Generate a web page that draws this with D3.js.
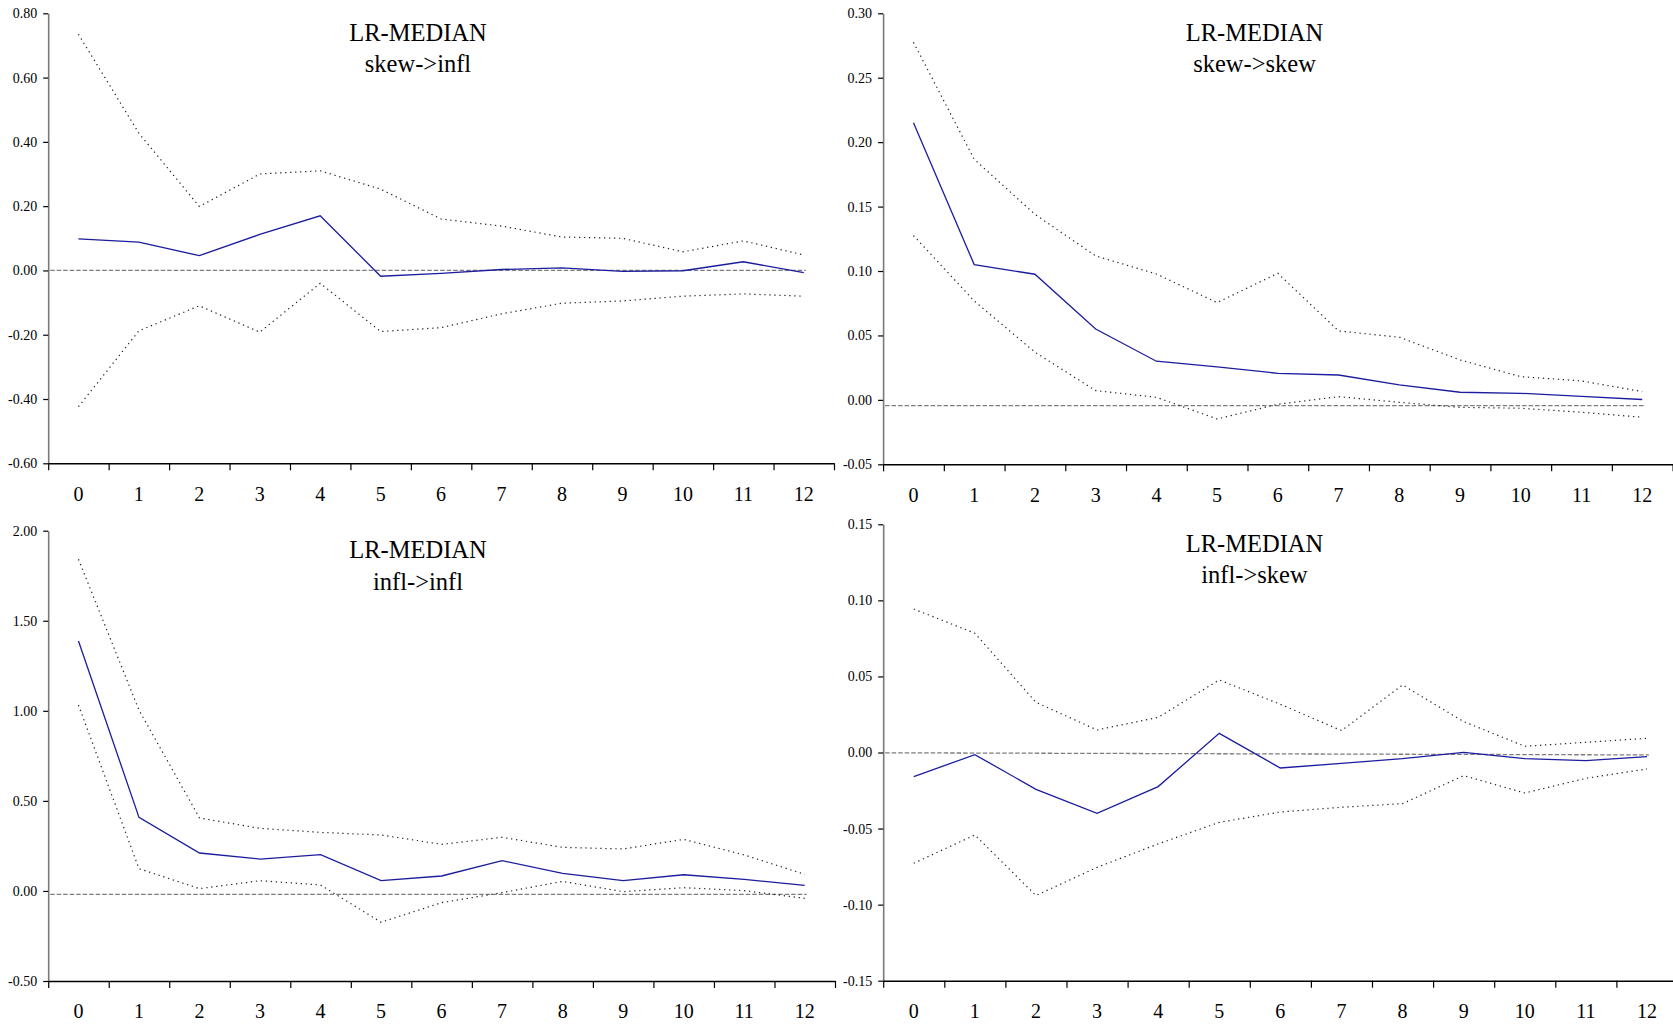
<!DOCTYPE html>
<html>
<head>
<meta charset="utf-8">
<script src="https://cdn.jsdelivr.net/npm/d3@7/dist/d3.min.js"></script>
<style>
  html, body { margin: 0; padding: 0; background: #fff; }
  svg { display: block; font-family: "Liberation Serif", "Times New Roman", serif; }
  svg text { font-family: "Liberation Serif", "Times New Roman", serif; }
</style>
</head>
<body>
<svg id="chart" width="1673" height="1026"></svg>
<script>
// Impulse responses, horizons 0..12
const horizons = ["0","1","2","3","4","5","6","7","8","9","10","11","12"];

// skew -> infl
const skewInflMedian = [0.098, 0.088, 0.046, 0.112, 0.170, -0.018, -0.009, 0.003, 0.008, -0.003, -0.001, 0.027, -0.007];
const skewInflUpper  = [0.735, 0.427, 0.199, 0.300, 0.310, 0.253, 0.160, 0.138, 0.104, 0.100, 0.058, 0.092, 0.048];
const skewInflLower  = [-0.424, -0.188, -0.110, -0.192, -0.040, -0.190, -0.178, -0.135, -0.102, -0.095, -0.080, -0.073, -0.080];
const skewInflRef    = [0.0, 0.0];
const skewInflTicks  = [-0.60, -0.40, -0.20, 0.00, 0.20, 0.40, 0.60, 0.80];

// skew -> skew
const skewSkewMedian = [0.215, 0.105, 0.0975, 0.055, 0.030, 0.0256, 0.0206, 0.0193, 0.0116, 0.0059, 0.0051, 0.0027, 0.0003];
const skewSkewUpper  = [0.2775, 0.1867, 0.144, 0.1117, 0.0977, 0.0755, 0.0982, 0.0535, 0.0486, 0.031, 0.018, 0.0147, 0.0064];
const skewSkewLower  = [0.1275, 0.0768, 0.037, 0.0072, 0.002, -0.0148, -0.0034, 0.0025, -0.0019, -0.0058, -0.0065, -0.0096, -0.0135];
const skewSkewRef    = [-0.0045, -0.0045];
const skewSkewTicks  = [-0.05, 0.00, 0.05, 0.10, 0.15, 0.20, 0.25, 0.30];

// infl -> infl
const inflInflMedian = [1.3875, 0.4086, 0.2106, 0.177, 0.2013, 0.057, 0.083, 0.168, 0.098, 0.057, 0.090, 0.064, 0.031];
const inflInflUpper  = [1.841, 1.004, 0.405, 0.3475, 0.325, 0.3105, 0.2587, 0.2976, 0.242, 0.233, 0.2865, 0.20, 0.092];
const inflInflLower  = [1.032, 0.1236, 0.0126, 0.057, 0.033, -0.174, -0.065, -0.0096, 0.053, -0.004, 0.018, 0.0015, -0.041];
const inflInflRef    = [-0.019, -0.019];
const inflInflTicks  = [-0.50, 0.00, 0.50, 1.00, 1.50, 2.00];

// infl -> skew
const inflSkewMedian = [-0.0159, -0.0014, -0.0242, -0.040, -0.0224, 0.0126, -0.0102, -0.0071, -0.004, 0.0001, -0.004, -0.0053, -0.0027];
const inflSkewUpper  = [0.0943, 0.0784, 0.033, 0.0148, 0.0231, 0.0477, 0.0317, 0.0144, 0.0444, 0.0203, 0.0041, 0.0067, 0.0093];
const inflSkewLower  = [-0.0728, -0.0542, -0.094, -0.0755, -0.0601, -0.0459, -0.0391, -0.036, -0.0336, -0.0152, -0.0266, -0.017, -0.0108];
const inflSkewRef    = [-0.0002, -0.0016];
const inflSkewTicks  = [-0.15, -0.10, -0.05, 0.00, 0.05, 0.10, 0.15];

const titleMain = "LR-MEDIAN";

const panels = [
  { sub: "skew->infl", median: skewInflMedian, upper: skewInflUpper, lower: skewInflLower, ref: skewInflRef, ticks: skewInflTicks,
    px0: 0, pw: 836, x0: 48.2, x1: 834, yTop: 13.3, yBot: 463.3, t1: 41, t2: 72 },
  { sub: "skew->skew", median: skewSkewMedian, upper: skewSkewUpper, lower: skewSkewLower, ref: skewSkewRef, ticks: skewSkewTicks,
    px0: 836, pw: 837, x0: 883.1, x1: 1672.6, yTop: 13.3, yBot: 464.3, t1: 41, t2: 71.7 },
  { sub: "infl->infl", median: inflInflMedian, upper: inflInflUpper, lower: inflInflLower, ref: inflInflRef, ticks: inflInflTicks,
    px0: 0, pw: 836, x0: 48.2, x1: 835, yTop: 530.7, yBot: 981, t1: 558.3, t2: 590 },
  { sub: "infl->skew", median: inflSkewMedian, upper: inflSkewUpper, lower: inflSkewLower, ref: inflSkewRef, ticks: inflSkewTicks,
    px0: 836, pw: 837, x0: 883.2, x1: 1677.5, yTop: 524.3, yBot: 980.7, t1: 551.7, t2: 582.7 }
];

const serif = "Liberation Serif, Times New Roman, serif";
// two decimals with a plain hyphen for negatives
const fmt = d => d3.format(".2f")(d).replace("\u2212", "-");

const svg = d3.select("#chart");

panels.forEach(p => {
  const g = svg.append("g");

  const x = d3.scaleBand().domain(horizons).range([p.x0, p.x1]).padding(0);
  const xEdge = d3.scaleLinear().domain([0, horizons.length]).range([p.x0, p.x1]);
  const y = d3.scaleLinear()
    .domain([p.ticks[0], p.ticks[p.ticks.length - 1]])
    .range([p.yBot, p.yTop]);
  const cx = (d, i) => x(horizons[i]) + x.bandwidth() / 2;

  // y axis: gray spine, black ticks
  const yAxis = g.append("g")
    .attr("transform", `translate(${p.x0},0)`)
    .call(d3.axisLeft(y).tickValues(p.ticks).tickFormat(fmt).tickSizeInner(5).tickSizeOuter(0).tickPadding(6));
  yAxis.attr("font-family", serif);
  yAxis.select(".domain").attr("stroke", "#7a7a7a").attr("stroke-width", 1.6);
  yAxis.selectAll(".tick line").attr("stroke", "#000").attr("stroke-width", 1.2);
  yAxis.selectAll(".tick text").attr("font-size", 14).attr("fill", "#000");

  // x axis: tick marks at band edges
  const xTicks = g.append("g")
    .attr("transform", `translate(0,${p.yBot})`)
    .call(d3.axisBottom(xEdge).tickValues(d3.range(horizons.length + 1)).tickFormat("").tickSizeInner(7).tickSizeOuter(0));
  xTicks.select(".domain").attr("stroke", "#000").attr("stroke-width", 1.4);
  xTicks.selectAll(".tick line").attr("stroke", "#000").attr("stroke-width", 1.2);

  // x labels centred in each band
  const xLabels = g.append("g")
    .attr("transform", `translate(0,${p.yBot})`)
    .call(d3.axisBottom(x).tickSize(0).tickPadding(p.yBot > 500 ? 23 : 24));
  xLabels.attr("font-family", serif);
  xLabels.select(".domain").remove();
  xLabels.selectAll(".tick text").attr("font-size", 20).attr("fill", "#000");

  // reference line
  const refX = d3.scaleLinear().domain([0, 1]).range([p.x0 + 2, cx(null, horizons.length - 1) + 2]);
  g.append("path")
    .datum(p.ref)
    .attr("fill", "none")
    .attr("stroke", "#7d7d7d")
    .attr("stroke-width", 1.3)
    .attr("stroke-dasharray", "4.5,2")
    .attr("d", d3.line().x((d, i) => refX(i)).y(d => y(d)));

  const line = d3.line().x(cx).y(d => y(d));

  // confidence bands
  [p.upper, p.lower].forEach(band => {
    g.append("path")
      .datum(band)
      .attr("fill", "none")
      .attr("stroke", "#222")
      .attr("stroke-width", 1.2)
      .attr("stroke-dasharray", "1.3,3.7")
      .attr("d", line);
  });

  // median response
  g.append("path")
    .datum(p.median)
    .attr("fill", "none")
    .attr("stroke", "#1c1c9e")
    .attr("stroke-width", 1.3)
    .attr("d", line);

  // titles
  const tcx = p.px0 + p.pw / 2;
  g.append("text").attr("x", tcx).attr("y", p.t1).attr("text-anchor", "middle")
    .attr("font-family", serif).attr("font-size", 24.5).attr("fill", "#000").text(titleMain);
  g.append("text").attr("x", tcx).attr("y", p.t2).attr("text-anchor", "middle")
    .attr("font-family", serif).attr("font-size", 24.5).attr("fill", "#000").text(p.sub);
});
</script>
</body>
</html>
